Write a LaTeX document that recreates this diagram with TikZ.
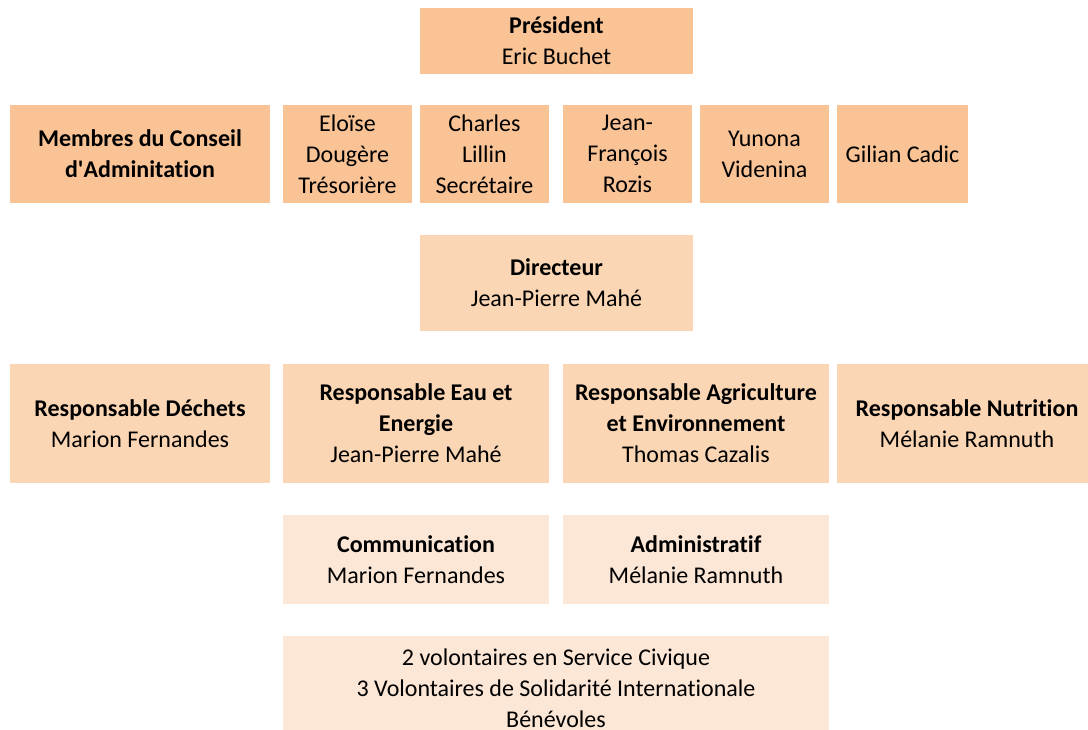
\documentclass[tikz,border=0pt]{standalone}
\usepackage{fontspec}
\setmainfont[Ligatures=NoCommon]{Carlito}
\definecolor{cTop}{HTML}{F9C396}
\definecolor{cMid}{HTML}{FBD6B4}
\definecolor{cLow}{HTML}{FCE6D6}
\begin{document}
\begin{tikzpicture}[x=1pt,y=-1pt,
  box/.style={rectangle, draw=none, inner sep=0pt, align=center,
    font=\fontsize{24}{31}\selectfont, text=black},
  top/.style={box, fill=cTop},
  mid/.style={box, fill=cMid},
  low/.style={box, fill=cLow}]
\useasboundingbox (0,0) rectangle (1088,729);
\fill[white] (0,0) rectangle (1088,729);
% President
\node[top, minimum width=273pt, minimum height=66pt] (pres) at (556.5,41) {\textbf{Président}\\Eric Buchet};
% Board
\node[top, minimum width=260pt, minimum height=98pt] (membres) at (140,154) {\textbf{Membres du Conseil}\\\textbf{d\textquotesingle Adminitation}};
\node[top, minimum width=129pt, minimum height=98pt] (eloise) at (347.5,154) {Eloïse\\Dougère\\Trésorière};
\node[top, minimum width=129pt, minimum height=98pt] (charles) at (484.5,154) {Charles\\Lillin\\Secrétaire};
\node[top, minimum width=129pt, minimum height=98pt] (jf) at (627.5,154) {Jean-\\François\\Rozis};
\node[top, minimum width=129pt, minimum height=98pt] (yunona) at (764.5,154) {Yunona\\Videnina};
\node[top, minimum width=131pt, minimum height=98pt] (gilian) at (902.5,154) {Gilian Cadic};
% Directeur
\node[mid, minimum width=273pt, minimum height=96pt] (dir) at (556.5,283) {\textbf{Directeur}\\Jean-Pierre Mahé};
% Responsables
\node[mid, minimum width=260pt, minimum height=119pt] (rd) at (140,423.5) {\textbf{Responsable Déchets}\\Marion Fernandes};
\node[mid, minimum width=266pt, minimum height=119pt] (re) at (416,423.5) {\textbf{Responsable Eau et}\\\textbf{Energie}\\Jean-Pierre Mahé};
\node[mid, minimum width=266pt, minimum height=119pt] (ra) at (696,423.5) {\textbf{Responsable Agriculture}\\\textbf{et Environnement}\\Thomas Cazalis};
\node[mid, minimum width=260pt, minimum height=119pt] (rn) at (967,423.5) {\textbf{Responsable Nutrition}\\Mélanie Ramnuth};
% Support
\node[low, minimum width=266pt, minimum height=89pt] (com) at (416,559.5) {\textbf{Communication}\\Marion Fernandes};
\node[low, minimum width=266pt, minimum height=89pt] (adm) at (696,559.5) {\textbf{Administratif}\\Mélanie Ramnuth};
\node[low, minimum width=546pt, minimum height=104pt] (vol) at (556,688) {2 volontaires en Service Civique\\3 Volontaires de Solidarité Internationale\\Bénévoles};
\end{tikzpicture}
\end{document}
